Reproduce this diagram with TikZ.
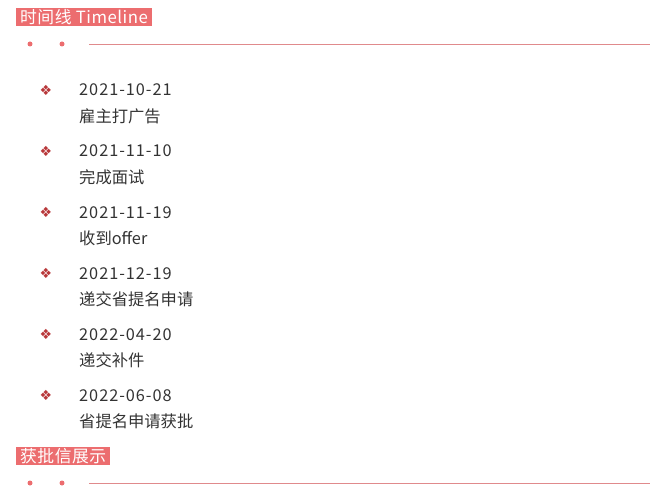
\documentclass[tikz,border=0pt]{standalone}
\usepackage{fontspec}
\setmainfont{Noto Sans CJK SC}
\newfontfamily\symfont{DejaVu Sans}
\newfontfamily\datefont[LetterSpace=6]{Noto Sans CJK SC}
\newfontfamily\tagfont[LetterSpace=3]{Noto Sans CJK SC}
\definecolor{tagred}{HTML}{EC6D6F}
\definecolor{rulered}{HTML}{E08A8C}
\definecolor{bulletred}{HTML}{B8383A}
\definecolor{txtgray}{HTML}{333333}
\tikzset{
  tag/.style={fill=tagred,text=white,anchor=north west,inner xsep=4pt,inner ysep=1.5pt,font=\tagfont\fontsize{16.8}{19}\selectfont},
  mark dot/.style={fill=tagred,draw=none},
  datetxt/.style={anchor=base west,inner sep=0pt,text=txtgray,font=\datefont\fontsize{16.3}{19}\selectfont},
  eventtxt/.style={anchor=base west,inner sep=0pt,text=txtgray,font=\fontsize{16.3}{19}\selectfont},
  bullet/.style={inner sep=0pt,text=bulletred,font=\symfont\fontsize{14}{15}\selectfont}
}
\begin{document}
\begin{tikzpicture}[x=1pt,y=-1pt]
  \useasboundingbox (0,0) rectangle (666,500);
  % first heading
  \node[tag] (head1) at (16,7.5) {时间线 Timeline};
  \fill[mark dot] (30,44) circle (2.5) (62,44) circle (2.5);
  \coordinate (r1a) at (89,44.5);
  \coordinate (r1b) at (650,44.5);
  \draw[rulered,line width=1pt] (r1a) -- (r1b);
  % timeline entries
  \foreach \d/\t [count=\i] in {2021-10-21/雇主打广告,2021-11-10/完成面试,2021-11-19/收到offer,2021-12-19/递交省提名申请,2022-04-20/递交补件,2022-06-08/省提名申请获批}{
    \pgfmathsetmacro\yy{90+61*(\i-1)}
    \node[bullet] (b\i) at (46,\yy) {❖};
    \node[datetxt] (d\i) at (79,\yy+6) {\d};
    \node[eventtxt] (e\i) at (79,\yy+32) {\t};
  }
  % second heading
  \node[tag] (head2) at (16,446.5) {获批信展示};
  \fill[mark dot] (30,483) circle (2.5) (62,483) circle (2.5);
  \coordinate (r2a) at (89,483.5);
  \coordinate (r2b) at (650,483.5);
  \draw[rulered,line width=1pt] (r2a) -- (r2b);
\end{tikzpicture}
\end{document}
